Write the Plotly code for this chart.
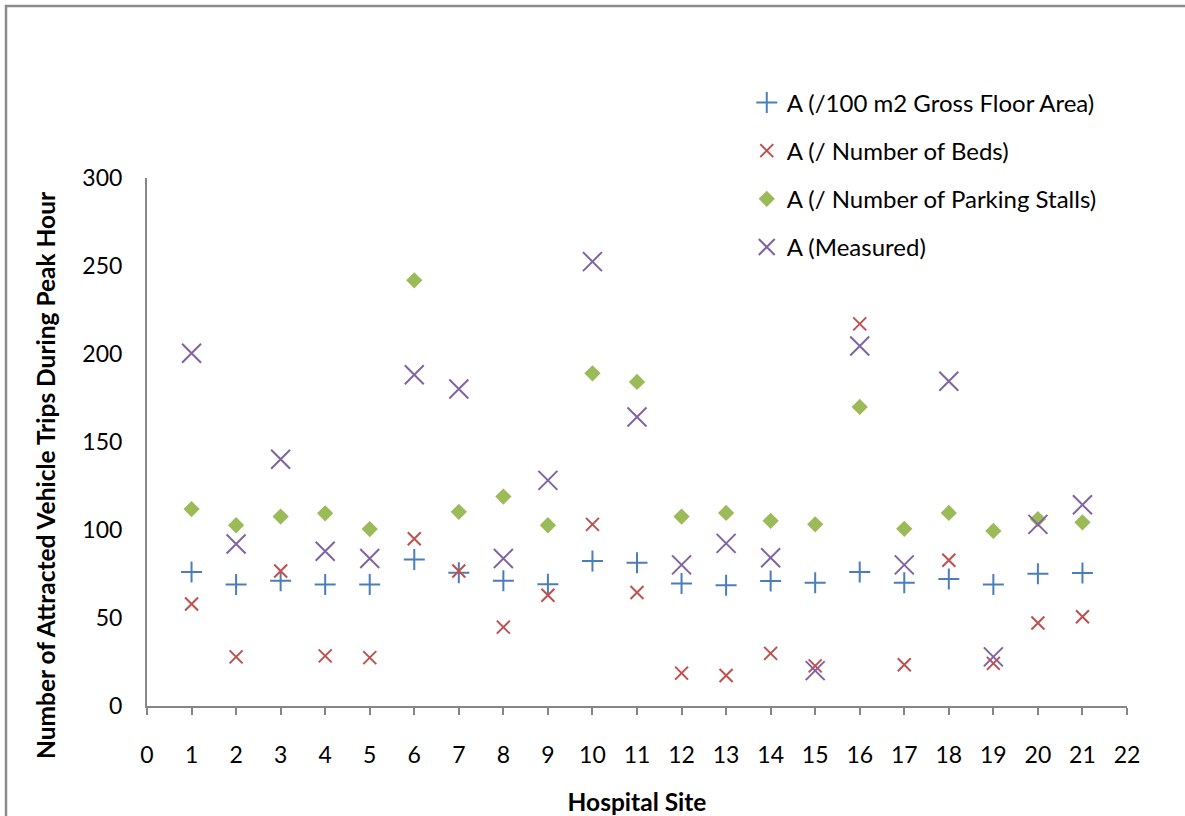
import plotly.graph_objects as go

sites = list(range(1, 22))

gfa = [76.1, 69.0, 71.2, 69.0, 69.0, 83.2, 75.7, 71.2, 69.2, 82.4, 81.4,
       69.6, 68.6, 71.0, 70.0, 76.1, 70.0, 72.2, 69.0, 75.1, 75.5]
beds = [58.0, 27.9, 76.7, 28.5, 27.5, 95.0, 76.7, 44.8, 62.9, 103.2, 64.5,
        18.7, 17.3, 29.9, 22.8, 217.1, 23.4, 82.8, 24.2, 47.2, 50.7]
stalls = [111.9, 102.7, 107.6, 109.5, 100.5, 241.9, 110.3, 119.0, 102.7, 189.0, 184.1,
          107.6, 109.7, 105.2, 103.2, 169.9, 100.7, 109.7, 99.5, 106.2, 104.4]
measured = [200.4, 92.0, 140.2, 87.9, 83.8, 188.2, 180.1, 83.8, 128.2, 252.5, 164.2,
            80.2, 92.4, 84.2, 20.1, 204.5, 80.2, 184.5, 27.9, 103.2, 114.3]

names = ["A (/100 m2 Gross Floor Area)", "A (/ Number of Beds)",
         "A (/ Number of Parking Stalls)", "A (Measured)"]
x_title = "Hospital Site"
y_title = "Number of Attracted Vehicle Trips During Peak Hour"

FONT = "Lato"
GRAY = "#868686"

fig = go.Figure()
fig.add_trace(go.Scatter(x=sites, y=gfa, mode="markers", name=names[0], legendgroup="g1",
                         marker=dict(symbol="cross-thin", size=15,
                                     line=dict(width=2, color="#4A7EBB"))))
fig.add_trace(go.Scatter(x=sites, y=beds, mode="markers", name=names[1], legendgroup="g2",
                         marker=dict(symbol="x-thin", size=13,
                                     line=dict(width=2, color="#C0504D"))))
fig.add_trace(go.Scatter(x=sites, y=stalls, mode="markers", name=names[2], legendgroup="g3",
                         marker=dict(symbol="diamond", size=12.5, color="#9BBB59",
                                     line=dict(width=0))))
fig.add_trace(go.Scatter(x=sites, y=measured, mode="markers", name=names[3], legendgroup="g4",
                         marker=dict(symbol="x-thin", size=19,
                                     line=dict(width=2, color="#8064A2"))))

fig.update_layout(
    width=1185, height=816,
    margin=dict(l=147, r=58, t=178, b=110, autoexpand=False),
    paper_bgcolor="white", plot_bgcolor="white",
    font=dict(family=FONT, size=23, color="black"),
    showlegend=True,
    legend=dict(x=0.612, y=1.185, xanchor="left", yanchor="top",
                font=dict(family=FONT, size=24, color="black"),
                tracegroupgap=14, bgcolor="rgba(0,0,0,0)"),
    xaxis=dict(range=[0, 22], dtick=1, tick0=0, showgrid=False, zeroline=False,
               showline=True, linecolor=GRAY, linewidth=2, automargin=False,
               ticks="outside", ticklen=7, tickwidth=2, tickcolor=GRAY,
               ticklabelstandoff=20,
               tickfont=dict(family=FONT, size=23),
               title=dict(text="<b>" + x_title + "</b>", standoff=31,
                          font=dict(family=FONT, size=24.5))),
    yaxis=dict(range=[0, 300], dtick=50, showgrid=False, zeroline=False,
               showline=True, linecolor=GRAY, linewidth=2, automargin=False,
               ticks="", ticklabelstandoff=18,
               tickfont=dict(family=FONT, size=23)),
)

fig.add_annotation(text="<b>" + y_title + "</b>", xref="paper", yref="paper",
                   x=(45 - 147) / 980, y=(706 - 475) / 528,
                   xanchor="center", yanchor="middle", textangle=-90, showarrow=False,
                   font=dict(family=FONT, size=24.5, color="black"))

fig.add_shape(type="rect", xref="paper", yref="paper",
              x0=(6 - 147) / 980, x1=(1200 - 147) / 980,
              y0=(706 - 830) / 528, y1=(706 - 6) / 528,
              line=dict(color="#8C8C8C", width=2.5), layer="below")

fig.write_html("out.html")
